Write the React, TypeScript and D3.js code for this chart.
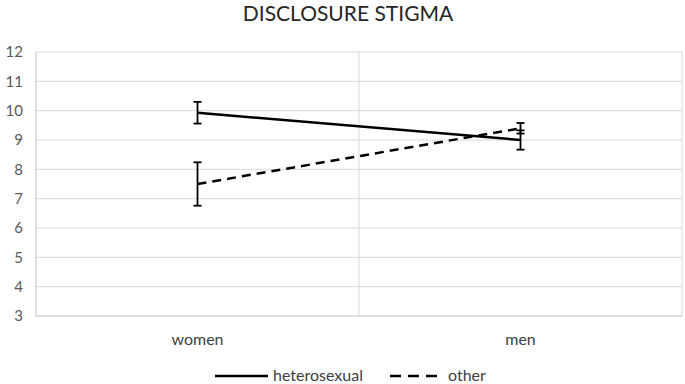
import { useEffect, useRef } from "react";
import * as d3 from "d3";

const categories = ["women", "men"];
const seriesNames = ["heterosexual", "other"];
const heteroMeans = [9.93, 9.0];
const heteroErrors = [0.37, 0.33];
const otherMeans = [7.5, 9.4];
const otherErrors = [0.74, 0.18];
const yTicks = [3, 4, 5, 6, 7, 8, 9, 10, 11, 12];

const W = 685;
const H = 384;
const FONT = "Lato, 'Open Sans', sans-serif";

export default function App() {
  const ref = useRef<SVGSVGElement | null>(null);

  useEffect(() => {
    if (!ref.current) return;
    const svg = d3.select(ref.current);
    svg.selectAll("*").remove();

    const m = { top: 52, right: 3, bottom: 68, left: 36 };
    const x = d3.scaleBand<string>().domain(categories).range([m.left, W - m.right]);
    const y = d3.scaleLinear().domain([3, 12]).range([H - m.bottom, m.top]);

    svg.append("rect").attr("width", W).attr("height", H).attr("fill", "#fff");

    svg
      .append("text")
      .attr("x", 348)
      .attr("y", 21)
      .attr("text-anchor", "middle")
      .attr("font-family", FONT)
      .attr("font-size", 21)
      .attr("fill", "#262626")
      .text("DISCLOSURE STIGMA");

    // horizontal grid
    svg
      .append("g")
      .selectAll("line")
      .data(yTicks.slice(1))
      .join("line")
      .attr("x1", m.left)
      .attr("x2", W - m.right)
      .attr("y1", (d) => y(d))
      .attr("y2", (d) => y(d))
      .attr("stroke", "#d9d9d9")
      .attr("stroke-width", 1);

    // vertical grid at category boundaries
    svg
      .append("g")
      .selectAll("line")
      .data(categories)
      .join("line")
      .attr("x1", (d) => x(d)! + x.bandwidth())
      .attr("x2", (d) => x(d)! + x.bandwidth())
      .attr("y1", m.top)
      .attr("y2", H - m.bottom)
      .attr("stroke", "#d9d9d9")
      .attr("stroke-width", 1);

    // axis lines
    svg
      .append("line")
      .attr("x1", m.left)
      .attr("x2", m.left)
      .attr("y1", m.top)
      .attr("y2", H - m.bottom)
      .attr("stroke", "#bfbfbf");
    svg
      .append("line")
      .attr("x1", m.left)
      .attr("x2", W - m.right)
      .attr("y1", H - m.bottom)
      .attr("y2", H - m.bottom)
      .attr("stroke", "#bfbfbf");

    svg
      .append("g")
      .selectAll("text")
      .data(yTicks)
      .join("text")
      .attr("x", 23)
      .attr("y", (d) => y(d))
      .attr("dy", "0.35em")
      .attr("text-anchor", "end")
      .attr("font-family", FONT)
      .attr("font-size", 15)
      .attr("fill", "#595959")
      .text((d) => d);

    svg
      .append("g")
      .selectAll("text")
      .data(categories)
      .join("text")
      .attr("x", (d) => x(d)! + x.bandwidth() / 2)
      .attr("y", 345)
      .attr("text-anchor", "middle")
      .attr("font-family", FONT)
      .attr("font-size", 16)
      .attr("fill", "#404040")
      .text((d) => d);

    const cx = (c: string) => x(c)! + x.bandwidth() / 2;
    const series = [
      { name: seriesNames[0], means: heteroMeans, errs: heteroErrors, dash: null as string | null },
      { name: seriesNames[1], means: otherMeans, errs: otherErrors, dash: "9,6" },
    ];

    const line = d3
      .line<number>()
      .x((_, i) => cx(categories[i]))
      .y((d) => y(d));

    series.forEach((s) => {
      svg
        .append("path")
        .attr("d", line(s.means))
        .attr("fill", "none")
        .attr("stroke", "#000")
        .attr("stroke-width", 2.5)
        .attr("stroke-dasharray", s.dash);

      const eb = svg.append("g").attr("stroke", "#000").attr("stroke-width", 1.8);
      s.means.forEach((v, i) => {
        const px = cx(categories[i]);
        const lo = y(v - s.errs[i]);
        const hi = y(v + s.errs[i]);
        eb.append("line").attr("x1", px).attr("x2", px).attr("y1", lo).attr("y2", hi);
        eb.append("line").attr("x1", px - 4).attr("x2", px + 4).attr("y1", lo).attr("y2", lo);
        eb.append("line").attr("x1", px - 4).attr("x2", px + 4).attr("y1", hi).attr("y2", hi);
      });
    });

    // legend
    const legendX = [215, 390];
    series.forEach((s, i) => {
      const g = svg.append("g").attr("transform", `translate(${legendX[i]},376)`);
      g.append("line")
        .attr("x1", 0)
        .attr("x2", 53)
        .attr("stroke", "#000")
        .attr("stroke-width", 2.5)
        .attr("stroke-dasharray", i === 1 ? "11,7" : null);
      g.append("text")
        .attr("x", 58)
        .attr("y", 5)
        .attr("font-family", FONT)
        .attr("font-size", 16)
        .attr("fill", "#404040")
        .text(s.name);
    });
  }, []);

  return (
    <svg
      ref={ref}
      width={W}
      height={H}
      style={{ display: "block", position: "fixed", top: 0, left: 0 }}
    />
  );
}
